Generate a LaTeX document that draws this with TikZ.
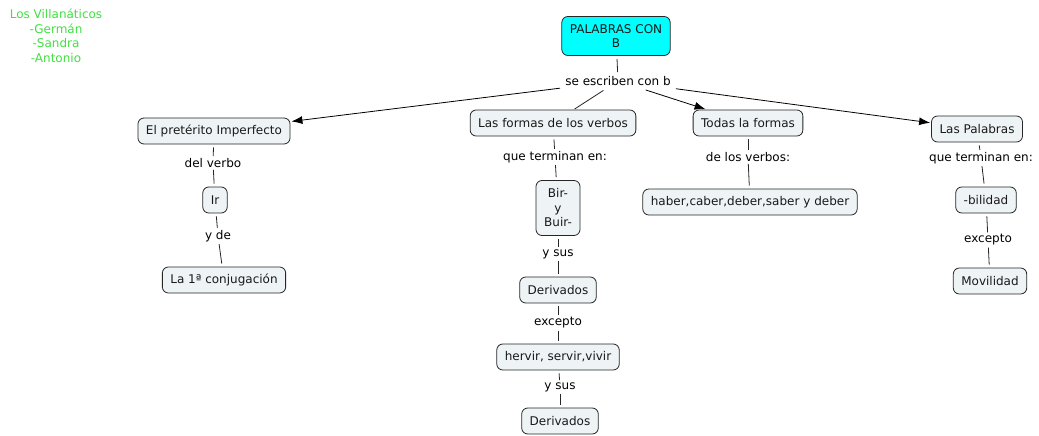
\documentclass[tikz,border=0pt]{standalone}
\usepackage{fontspec}
\setmainfont{DejaVu Sans}
\usetikzlibrary{arrows.meta}
\definecolor{nodefill}{RGB}{238,243,246}
\definecolor{titlefill}{RGB}{0,255,255}
\definecolor{teamgreen}{RGB}{64,224,64}
\tikzset{
  concept/.style={draw=black!85, line width=0.8pt, rounded corners=6pt, fill=nodefill,
    inner xsep=8pt, inner ysep=4pt, minimum height=26pt, align=center,
    font=\fontsize{12}{14.5}\selectfont, text=black!90},
  titlebox/.style={concept, fill=titlefill, inner xsep=8pt, minimum height=39pt},
  linkph/.style={inner xsep=3pt, inner ysep=1.5pt, font=\fontsize{12}{14}\selectfont, text=black},
  conn/.style={draw=black!85, line width=0.8pt, shorten <=3pt, shorten >=0.5pt},
  lconn/.style={draw=black!85, line width=0.8pt, shorten <=0.5pt, shorten >=3pt},
  arr/.style={draw=black, line width=0.8pt, -{Latex[length=11pt,width=8pt]}, shorten <=2pt, shorten >=1pt}
}
\begin{document}
\begin{tikzpicture}[x=1pt,y=-1pt]
\useasboundingbox (0,0) rectangle (1039,436);
\node[text=teamgreen, align=center, font=\fontsize{12}{14.5}\selectfont] (team) at (56,36) {Los Villanáticos\\-Germán\\-Sandra\\-Antonio};

\node[titlebox] (title) at (616,36) {PALABRAS CON\\B};
\node[linkph, inner ysep=3.5pt] (se) at (618,81) {se escriben con b};

\node[concept] (pret) at (214,131) {El pretérito Imperfecto};
\node[concept] (formas) at (553,123) {Las formas de los verbos};
\node[concept] (todas) at (748,123) {Todas la formas};
\node[concept] (palabras) at (977,129) {Las Palabras};

\node[linkph] (delverbo) at (213,163) {del verbo};
\node[concept] (ir) at (215,200) {Ir};
\node[linkph] (yde) at (218,236) {y de};
\node[concept] (conj) at (224,280) {La 1ª conjugación};

\node[linkph] (qte1) at (555,157) {que terminan en:};
\node[concept, minimum width=44pt, minimum height=55pt, inner xsep=4pt] (bir) at (558,208) {Bir-\\y\\Buir-};
\node[linkph] (ysus1) at (558,254) {y sus};
\node[concept] (der1) at (558,290) {Derivados};
\node[linkph] (exc1) at (558,323) {excepto};
\node[concept] (herv) at (558,357) {hervir, servir,vivir};
\node[linkph] (ysus2) at (560,387) {y sus};
\node[concept] (der2) at (560,421) {Derivados};

\node[linkph] (delos) at (748,157) {de los verbos:};
\node[concept] (haber) at (750,202) {haber,caber,deber,saber y deber};

\node[linkph] (qte2) at (981,158) {que terminan en:};
\node[concept] (bil) at (986,200) {-bilidad};
\node[linkph] (exc2) at (988,240) {excepto};
\node[concept] (movil) at (990,281) {Movilidad};

\draw[conn] (title) -- (se);
\draw[arr] (se) -- (pret);
\draw[lconn, shorten <=2pt, shorten >=1pt] (se) -- (formas);
\draw[arr] (se) -- (todas);
\draw[arr] (se) -- (palabras);

\draw[conn] (pret) -- (delverbo);
\draw[lconn] (delverbo) -- (ir);
\draw[conn] (ir) -- (yde);
\draw[lconn] (yde) -- (conj);

\draw[conn] (formas) -- (qte1);
\draw[lconn] (qte1) -- (bir);
\draw[conn] (bir) -- (ysus1);
\draw[lconn] (ysus1) -- (der1);
\draw[conn] (der1) -- (exc1);
\draw[lconn] (exc1) -- (herv);
\draw[conn] (herv) -- (ysus2);
\draw[lconn] (ysus2) -- (der2);

\draw[conn] (todas) -- (delos);
\draw[lconn] (delos) -- (haber);

\draw[conn] (palabras) -- (qte2);
\draw[lconn] (qte2) -- (bil);
\draw[conn] (bil) -- (exc2);
\draw[lconn] (exc2) -- (movil);
\end{tikzpicture}
\end{document}
